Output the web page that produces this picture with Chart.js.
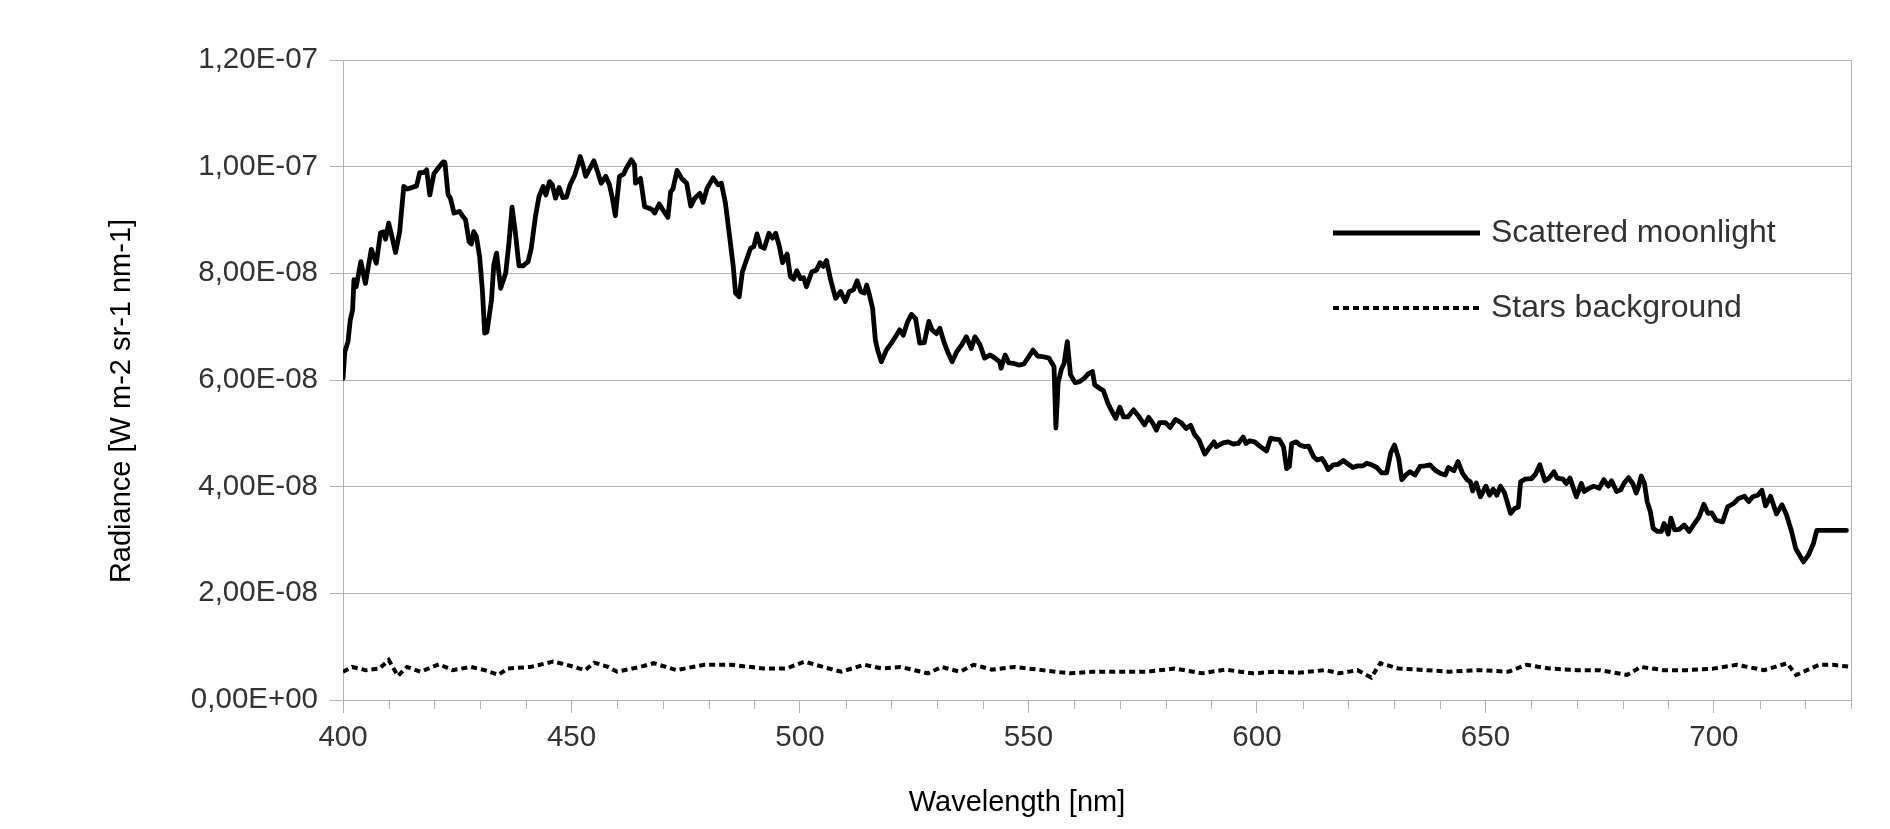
<!DOCTYPE html>
<html><head><meta charset="utf-8">
<script src="https://cdn.jsdelivr.net/npm/chart.js@4.4.0/dist/chart.umd.min.js"></script>
<style>html,body{margin:0;padding:0;background:#fff}#wrap{width:1890px;height:829px}</style>
</head><body><div id="wrap"><canvas id="c" width="1890" height="829"></canvas></div>
<script>
// Radiance values are in units of 1E-08 W m-2 sr-1 nm-1
const moonWl = [400.0,400.4,401.1,401.6,402.1,402.4,402.9,403.9,404.9,406.2,407.3,408.2,408.9,409.3,410.0,410.7,411.5,412.4,413.3,414.1,416.1,416.8,417.7,418.3,419.0,419.9,420.8,421.9,422.3,423.0,423.5,424.3,425.5,426.3,426.8,427.6,428.1,428.6,429.2,429.9,430.5,431.0,431.5,432.5,433.0,433.6,434.5,435.6,436.3,437.0,437.7,438.5,439.4,440.5,441.2,442.1,442.9,443.8,444.4,445.2,445.8,446.5,447.3,448.1,448.9,449.7,450.7,451.4,451.9,452.5,453.1,453.8,454.9,455.8,456.5,457.5,458.3,458.9,459.6,460.5,461.4,462.0,463.1,463.8,464.0,465.1,466.0,467.0,467.7,468.2,469.2,470.0,471.1,471.7,472.2,473.1,474.1,475.2,476.1,477.0,478.1,478.8,479.7,481.0,482.1,482.8,483.7,484.6,485.4,485.9,486.7,487.4,488.3,489.2,489.9,490.6,491.4,492.2,493.2,494.0,494.7,495.5,496.2,497.2,497.9,498.6,499.3,500.1,500.8,501.4,502.6,503.6,504.4,505.1,505.8,506.7,507.8,508.9,509.9,510.8,511.7,512.5,513.3,514.1,514.6,515.2,515.9,516.5,517.0,517.8,518.9,520.0,521.1,521.8,522.6,523.5,524.4,525.3,526.2,527.2,528.2,528.9,529.9,530.6,531.6,532.5,533.3,534.3,535.4,536.4,537.5,538.3,539.4,540.4,541.6,542.7,543.7,544.0,544.9,545.7,546.8,547.9,549.0,550.1,551.0,552.0,553.0,554.5,555.6,556.0,556.5,557.2,557.8,558.5,559.2,560.2,561.2,562.3,563.0,564.0,564.5,565.6,566.4,567.4,568.1,569.1,570.0,570.8,571.8,573.0,574.2,575.4,576.3,577.2,578.0,578.7,580.0,581.0,582.2,583.4,584.5,585.5,586.4,587.3,588.6,589.7,590.6,591.1,592.6,593.7,594.8,595.9,597.0,597.6,598.4,599.5,600.6,602.1,603.0,603.9,604.9,605.8,606.5,607.1,607.6,608.6,609.4,610.5,611.3,612.4,613.2,614.2,614.9,615.6,616.7,617.8,618.9,620.0,621.0,622.0,623.2,624.0,625.1,626.2,627.3,628.4,629.3,630.1,631.0,631.7,632.6,633.5,634.6,635.7,636.8,637.9,639.0,640.1,641.2,641.9,643.1,644.0,645.0,646.0,646.7,647.2,648.0,648.9,650.1,650.9,651.7,652.5,653.3,654.2,655.5,656.4,657.2,657.7,658.6,660.1,661.0,661.9,663.0,663.9,665.0,665.7,667.0,667.7,668.5,669.9,671.0,671.6,672.7,673.7,674.9,675.9,676.9,677.6,678.7,679.6,680.3,681.3,682.3,683.0,683.5,684.1,684.8,685.4,686.1,686.7,687.6,688.5,689.1,690.0,690.6,691.4,692.4,693.5,694.6,695.6,696.8,697.8,698.7,699.5,700.5,701.9,703.0,704.4,705.4,706.7,707.6,708.5,709.6,710.5,711.3,712.4,713.7,714.9,715.9,717.0,717.9,719.6,720.7,721.8,722.5,729.0];
const moonVal = [6.03,6.53,6.72,7.13,7.31,7.88,7.75,8.22,7.81,8.45,8.19,8.76,8.78,8.64,8.94,8.69,8.39,8.78,9.63,9.58,9.64,9.89,9.89,9.94,9.47,9.87,9.97,10.09,10.08,9.47,9.41,9.13,9.16,9.06,9.01,8.59,8.55,8.78,8.69,8.31,7.69,6.88,6.90,7.50,8.16,8.38,7.72,8.00,8.56,9.24,8.78,8.14,8.14,8.22,8.47,9.06,9.44,9.63,9.47,9.72,9.66,9.41,9.61,9.42,9.43,9.66,9.84,10.03,10.19,10.03,9.82,9.93,10.11,9.88,9.69,9.82,9.66,9.43,9.08,9.82,9.86,9.97,10.13,10.03,9.69,9.78,9.25,9.22,9.19,9.13,9.30,9.19,9.05,9.53,9.58,9.93,9.78,9.69,9.26,9.41,9.50,9.33,9.60,9.79,9.66,9.69,9.31,8.69,8.13,7.63,7.56,8.03,8.25,8.47,8.50,8.74,8.50,8.47,8.75,8.66,8.75,8.50,8.20,8.36,7.94,7.89,8.05,7.90,7.92,7.75,8.03,8.06,8.20,8.13,8.24,7.88,7.53,7.66,7.47,7.66,7.69,7.86,7.66,7.63,7.78,7.60,7.34,6.75,6.56,6.34,6.56,6.69,6.84,6.94,6.84,7.08,7.23,7.15,6.69,6.70,7.10,6.94,6.87,6.97,6.69,6.49,6.34,6.53,6.66,6.81,6.59,6.81,6.66,6.41,6.47,6.41,6.34,6.22,6.47,6.32,6.31,6.28,6.30,6.44,6.56,6.45,6.44,6.41,6.25,5.10,5.95,6.20,6.31,6.72,6.10,5.95,5.97,6.04,6.11,6.16,5.91,5.84,5.80,5.56,5.44,5.28,5.49,5.31,5.31,5.44,5.31,5.16,5.30,5.19,5.06,5.20,5.20,5.11,5.26,5.20,5.09,5.15,4.97,4.88,4.61,4.74,4.84,4.75,4.82,4.84,4.80,4.81,4.93,4.81,4.86,4.84,4.76,4.67,4.91,4.89,4.88,4.75,4.34,4.38,4.81,4.84,4.78,4.75,4.76,4.56,4.50,4.53,4.44,4.32,4.41,4.42,4.49,4.42,4.36,4.39,4.39,4.44,4.41,4.36,4.26,4.26,4.64,4.78,4.53,4.13,4.22,4.28,4.22,4.38,4.39,4.41,4.31,4.25,4.22,4.36,4.30,4.47,4.25,4.13,4.09,3.92,4.07,3.81,4.01,3.84,3.95,3.84,4.01,3.88,3.50,3.59,3.62,4.09,4.14,4.15,4.24,4.41,4.11,4.16,4.28,4.16,4.14,4.06,4.16,3.81,4.06,3.91,3.97,4.01,3.97,4.13,4.01,4.11,3.91,3.94,4.06,4.17,4.05,3.88,4.00,4.20,4.06,3.72,3.53,3.22,3.16,3.16,3.31,3.11,3.41,3.19,3.20,3.28,3.16,3.29,3.44,3.67,3.50,3.51,3.37,3.34,3.62,3.69,3.78,3.82,3.72,3.81,3.84,3.93,3.64,3.82,3.49,3.66,3.47,3.16,2.84,2.59,2.72,2.94,3.18,3.18];
const starsWl = [400,402,405,408,410,412,414,417,421,424,428,431,434,436,441,446,449,453,455,458,460,465,468,473,479,485,492,497,501,505,509,514,518,522,528,531,535,538,542,547,553,559,564,571,576,582,588,593,599,604,609,615,618,622,625,627,631,637,642,649,655,659,664,670,675,681,684,689,694,700,705,711,716,718,723,726,730];
const starsVal = [0.53,0.62,0.56,0.59,0.75,0.45,0.62,0.53,0.67,0.56,0.62,0.56,0.47,0.59,0.62,0.72,0.66,0.56,0.70,0.62,0.53,0.62,0.69,0.56,0.66,0.66,0.59,0.59,0.72,0.62,0.53,0.66,0.59,0.62,0.50,0.62,0.53,0.66,0.57,0.62,0.56,0.50,0.53,0.53,0.53,0.59,0.50,0.57,0.50,0.53,0.51,0.56,0.50,0.56,0.42,0.69,0.59,0.56,0.53,0.56,0.53,0.66,0.59,0.56,0.56,0.47,0.62,0.56,0.56,0.59,0.66,0.56,0.69,0.47,0.66,0.66,0.62];
const seriesNames = ['Scattered moonlight', 'Stars background'];
const yTickValues = [0, 2, 4, 6, 8, 10, 12];
const yTickLabels = ['0,00E+00', '2,00E-08', '4,00E-08', '6,00E-08', '8,00E-08', '1,00E-07', '1,20E-07'];
const xMajorValues = [400, 450, 500, 550, 600, 650, 700];
const xTickLabels = ['400', '450', '500', '550', '600', '650', '700'];
const xMin = 400, xMax = 730, xMinorStep = 10;
const xTitle = 'Wavelength [nm]';
const yTitle = 'Radiance [W m-2 sr-1 nm-1]';

const FONT = 'Liberation Sans, Arial, sans-serif';
const GRID = '#b3b3b3';

const extras = {
  id: 'extras',
  afterDraw(chart) {
    const ctx = chart.ctx, a = chart.chartArea, xs = chart.scales.x;
    ctx.save();
    // minor x ticks (shorter)
    ctx.strokeStyle = GRID; ctx.lineWidth = 1;
    xs.ticks.forEach(t => {
      if (!xMajorValues.includes(t.value)) {
        const px = Math.round(xs.getPixelForValue(t.value)) + 0.5;
        ctx.beginPath(); ctx.moveTo(px, a.bottom); ctx.lineTo(px, a.bottom + 9); ctx.stroke();
      }
    });
    // legend inside plot
    chart.data.datasets.forEach((ds, i) => {
      const y = a.top + 173 + i * 75;
      ctx.beginPath();
      ctx.setLineDash(ds.borderDash || []);
      ctx.lineWidth = ds.borderWidth;
      ctx.strokeStyle = ds.borderColor;
      ctx.lineCap = 'butt';
      ctx.moveTo(a.right - 518, y); ctx.lineTo(a.right - 371, y); ctx.stroke();
      ctx.setLineDash([]);
      ctx.fillStyle = '#333333';
      ctx.font = '32px ' + FONT;
      ctx.textBaseline = 'middle'; ctx.textAlign = 'left';
      ctx.fillText(ds.label, a.right - 360, y);
    });
    // axis titles
    ctx.fillStyle = '#000000';
    ctx.font = '29px ' + FONT;
    ctx.textAlign = 'center'; ctx.textBaseline = 'middle';
    ctx.fillText(xTitle, a.left + 674, a.bottom + 103);
    ctx.translate(a.left - 221, a.top + 341);
    ctx.rotate(-Math.PI / 2);
    ctx.fillText(yTitle, 0, 0);
    ctx.restore();
  }
};

new Chart(document.getElementById('c'), {
  type: 'line',
  data: {
    datasets: [
      { label: seriesNames[0], data: moonWl.map((x, i) => ({ x, y: moonVal[i] })),
        borderColor: '#000000', borderWidth: 4.8, pointRadius: 0, fill: false, tension: 0,
        borderJoinStyle: 'round', borderCapStyle: 'round' },
      { label: seriesNames[1], data: starsWl.map((x, i) => ({ x, y: starsVal[i] })),
        borderColor: '#000000', borderWidth: 4, borderDash: [6, 4], pointRadius: 0, fill: false, tension: 0 }
    ]
  },
  options: {
    responsive: false, animation: false, devicePixelRatio: 1,
    layout: { padding: { top: 60, right: 39, left: 0, bottom: 0 } },
    plugins: { legend: { display: false }, tooltip: { enabled: false } },
    scales: {
      x: {
        type: 'linear', min: xMin, max: xMax,
        afterBuildTicks: s => { const t = []; for (let v = xMin; v <= xMax; v += xMinorStep) t.push({ value: v }); s.ticks = t; },
        afterFit: s => { s.height = 129; },
        ticks: { autoSkip: false, maxRotation: 0, minRotation: 0, padding: 7, color: '#333333',
          font: { family: FONT, size: 29.5 },
          callback: v => { const i = xMajorValues.indexOf(v); return i >= 0 ? xTickLabels[i] : ''; } },
        grid: { drawOnChartArea: false, drawTicks: true, tickLength: 13, color: GRID,
          tickColor: c => (c.tick && xMajorValues.includes(c.tick.value)) ? GRID : 'rgba(0,0,0,0)' },
        border: { display: true, color: GRID, width: 1 }
      },
      y: {
        min: 0, max: 12,
        afterBuildTicks: s => { s.ticks = yTickValues.map(v => ({ value: v })); },
        afterFit: s => { s.width = 343; },
        ticks: { padding: 12, color: '#333333', font: { family: FONT, size: 29.5 },
          callback: v => yTickLabels[yTickValues.indexOf(v)] },
        grid: { color: GRID, tickColor: GRID, tickLength: 13, drawTicks: true, lineWidth: 1 },
        border: { display: true, color: GRID, width: 1 }
      },
      y2: {
        position: 'right', min: 0, max: 12,
        ticks: { display: false },
        grid: { drawOnChartArea: false, drawTicks: false },
        border: { display: true, color: GRID, width: 1 },
        afterFit: s => { s.width = 0; }
      }
    }
  },
  plugins: [extras]
});
</script>
</body></html>
